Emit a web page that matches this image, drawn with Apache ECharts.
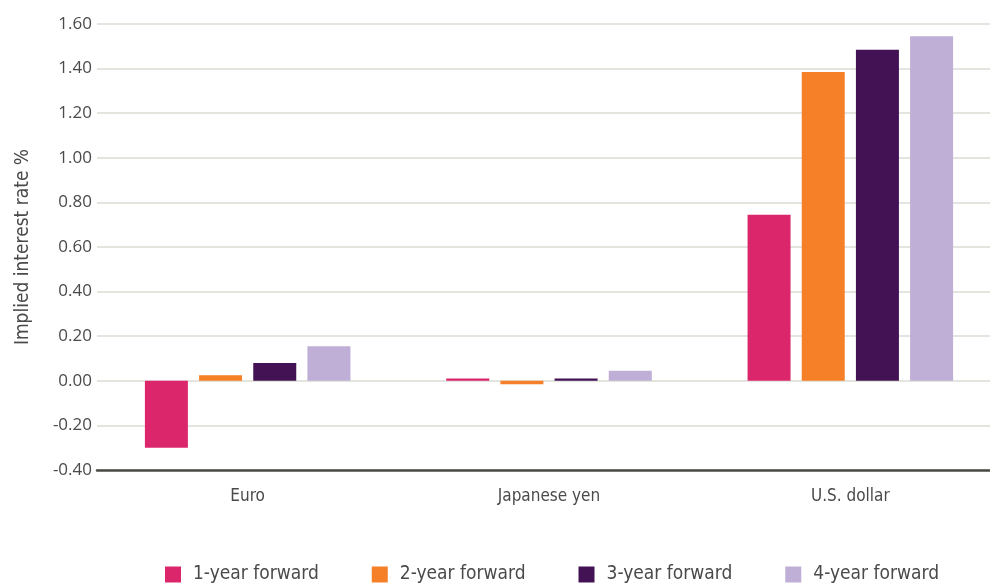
<!DOCTYPE html>
<html>
<head>
<meta charset="utf-8">
<script src="https://cdn.jsdelivr.net/npm/echarts@6/dist/echarts.min.js"></script>
<style>
  html, body { margin: 0; padding: 0; background: #fff; }
</style>
</head>
<body>
<div id="main" style="width: 990px;height:586px;"></div>
<script>
  // data
  var currencies = ['Euro', 'Japanese yen', 'U.S. dollar'];
  var seriesNames = ['1-year forward', '2-year forward', '3-year forward', '4-year forward'];
  var oneYear = [-0.30, 0.01, 0.745];
  var twoYear = [0.025, -0.015, 1.385];
  var threeYear = [0.08, 0.01, 1.485];
  var fourYear = [0.155, 0.045, 1.545];
  var colors = ['#DB266C', '#F58027', '#421254', '#BFAED5'];

  var narrow = "'Liberation Sans Narrow', 'DejaVu Sans Condensed', 'Open Sans', sans-serif";

  var myChart = echarts.init(document.getElementById('main'));

  var allData = [oneYear, twoYear, threeYear, fourYear];
  var series = [];
  for (var i = 0; i < seriesNames.length; i++) {
    series.push({
      name: seriesNames[i],
      type: 'bar',
      data: allData[i],
      barWidth: 43,
      barGap: '26%',
      itemStyle: { color: colors[i] }
    });
  }

  var option = {
    animation: false,
    color: colors,
    // plot runs past the right edge like in the original
    grid: { left: 97, width: 904, top: 24, bottom: 116, outerBoundsMode: 'none' },
    legend: {
      bottom: -3,
      left: 160,
      itemWidth: 16,
      itemHeight: 16,
      itemGap: 53,
      icon: 'rect',
      textStyle: { fontFamily: narrow, fontSize: 19, color: '#4a4a4a', padding: [0, 0, 0, 7] },
      data: seriesNames
    },
    xAxis: {
      type: 'category',
      data: currencies,
      axisTick: { show: false },
      axisLine: { onZero: false, lineStyle: { color: '#4a4a44', width: 2.5 } },
      axisLabel: { fontFamily: narrow, fontSize: 17, color: '#4a4a4a', margin: 18 }
    },
    yAxis: {
      type: 'value',
      min: -0.4,
      max: 1.6,
      interval: 0.2,
      name: 'Implied interest rate %',
      nameLocation: 'middle',
      nameGap: 64,
      nameTextStyle: { fontFamily: narrow, fontSize: 19, color: '#4a4a4a' },
      axisLine: { show: false },
      axisTick: { show: false },
      axisLabel: {
        fontFamily: "'Open Sans', sans-serif",
        fontSize: 17,
        color: '#4a4a4a',
        margin: 5,
        formatter: function (v) { return v.toFixed(2); }
      },
      splitLine: { lineStyle: { color: '#dcdcd6', width: 1.5 } }
    },
    series: series
  };

  myChart.setOption(option);
</script>
</body>
</html>
